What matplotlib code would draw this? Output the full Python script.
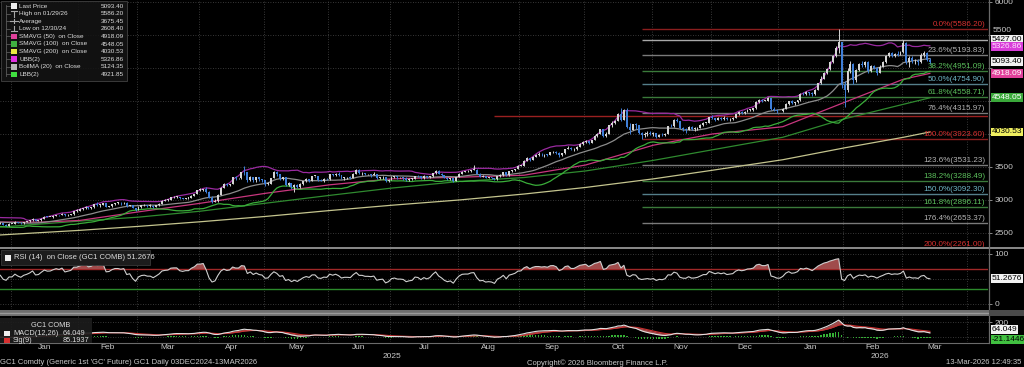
import numpy as np
import pandas as pd
import matplotlib
matplotlib.use("Agg")
import matplotlib.pyplot as plt
from matplotlib.patches import Rectangle
from matplotlib.lines import Line2D
from matplotlib.transforms import blended_transform_factory as btf

plt.rcParams['font.family'] = ['Liberation Sans', 'DejaVu Sans']

# ---------------- daily OHLC (open, high, low, close) ----------------
ohlc_2024_12 = [(2655,2668,2645,2660),(2660,2675,2650,2670),(2670,2672,2645,2655),(2655,2665,2640,2657),
 (2657,2695,2650,2690),(2690,2722,2685,2715),(2715,2765,2710,2760),(2760,2762,2700,2705),(2705,2710,2668,2675),
 (2675,2685,2660,2670),(2670,2678,2655,2665),(2665,2672,2615,2650),(2650,2652,2600,2610),(2610,2645,2600,2635),
 (2635,2645,2625,2632),(2632,2642,2628,2638),(2638,2640,2636,2638),(2638,2660,2635,2653),(2653,2656,2615,2620),
 (2620,2630,2608.4,2610),(2610,2645,2609,2641)]
ohlc_2025_01 = [(2641,2643,2639,2641),(2641,2675,2638,2670),(2670,2672,2648,2655),
 (2655,2660,2638,2645),(2645,2672,2640,2665),(2665,2680,2660,2675),(2675,2695,2672,2690),(2690,2725,2685,2715),
 (2715,2718,2675,2685),(2685,2698,2680,2690),(2690,2722,2686,2718),(2718,2752,2715,2748),(2748,2755,2735,2740),
 (2740,2745,2736,2742),(2742,2765,2730,2760),(2760,2780,2755,2775),(2775,2780,2760,2770),(2770,2800,2765,2790),
 (2790,2792,2755,2765),(2765,2782,2760,2775),(2775,2792,2768,2785),(2785,2840,2780,2835),(2835,2860,2825,2835)]
ohlc_2025_02 = [(2835,2875,2830,2857),(2857,2880,2845,2875),(2875,2905,2870,2890),(2890,2895,2860,2875),
 (2875,2895,2865,2887),(2887,2940,2885,2935),(2935,2968,2915,2925),(2925,2940,2895,2930),(2930,2960,2925,2955),
 (2955,2960,2895,2900),(2900,2915,2895,2905),(2905,2940,2900,2935),(2935,2960,2930,2955),(2955,2975,2945,2955),
 (2955,2965,2930,2950),(2950,2975,2945,2960),(2960,2962,2900,2915),(2915,2930,2905,2925),(2925,2928,2875,2880),
 (2880,2885,2835,2848)]
ohlc_2025_03 = [(2848,2905,2845,2900),(2900,2930,2885,2920),(2920,2935,2905,2925),(2925,2930,2900,2915),
 (2915,2935,2900,2915),(2915,2920,2885,2900),(2900,2925,2895,2920),(2920,2950,2915,2945),(2945,2995,2940,2990),
 (2990,3017,2985,3000),(3000,3010,2990,3005),(3005,3045,3000,3040),(3040,3055,3030,3045),(3045,3065,3030,3045),
 (3045,3048,3010,3025),(3025,3035,3010,3020),(3020,3035,3015,3030),(3030,3040,3020,3030),(3030,3070,3025,3065),
 (3065,3095,3060,3090),(3090,3155,3085,3150)]
ohlc_2025_04 = [(3150,3175,3130,3150),(3150,3170,3135,3165),(3165,3200,3110,3120),(3120,3135,3025,3035),
 (3035,3055,2955,2975),(2975,3010,2970,2990),(2990,3090,2975,3080),(3080,3190,3075,3185),(3185,3250,3175,3245),
 (3245,3255,3210,3225),(3225,3245,3215,3240),(3240,3350,3235,3345),(3345,3360,3310,3330),(3330,3335,3325,3330),
 (3330,3430,3325,3425),(3425,3509,3380,3420),(3420,3425,3270,3300),(3300,3360,3285,3350),(3350,3355,3270,3300),
 (3300,3355,3280,3345),(3345,3350,3290,3315),(3315,3325,3280,3305)]
ohlc_2025_05 = [(3305,3310,3205,3240),(3240,3270,3230,3245),(3245,3340,3240,3335),(3335,3435,3330,3420),
 (3420,3440,3370,3390),(3390,3400,3300,3325),(3325,3350,3300,3345),(3345,3350,3205,3225),(3225,3265,3215,3250),
 (3250,3255,3170,3190),(3190,3240,3125,3225),(3225,3235,3180,3190),(3190,3250,3185,3235),(3235,3295,3220,3285),
 (3285,3330,3280,3315),(3315,3325,3280,3295),(3295,3370,3290,3365),(3365,3368,3355,3365),(3365,3368,3295,3300),
 (3300,3320,3285,3290),(3290,3330,3270,3320),(3320,3330,3300,3315)]
ohlc_2025_06 = [(3315,3400,3310,3395),(3395,3400,3360,3375),(3375,3405,3370,3400),(3400,3420,3365,3375),
 (3375,3385,3320,3330),(3330,3350,3300,3345),(3345,3355,3320,3345),(3345,3365,3325,3340),(3340,3405,3335,3400),
 (3400,3470,3395,3450),(3450,3475,3390,3405),(3405,3420,3385,3405),(3405,3415,3375,3390),(3390,3395,3385,3390),
 (3390,3400,3350,3385),(3385,3420,3375,3395),(3395,3400,3320,3335),(3335,3355,3325,3345),(3345,3365,3325,3350),
 (3350,3352,3280,3290),(3290,3315,3270,3307)]
ohlc_2025_07 = [(3307,3360,3300,3350),(3350,3370,3335,3360),(3360,3365,3320,3345),(3345,3348,3340,3345),
 (3345,3350,3300,3340),(3340,3345,3290,3310),(3310,3330,3295,3320),(3320,3335,3310,3325),(3325,3370,3320,3365),
 (3365,3385,3350,3360),(3360,3370,3325,3335),(3335,3375,3320,3360),(3360,3365,3330,3345),(3345,3370,3340,3360),
 (3360,3410,3355,3405),(3405,3450,3400,3445),(3445,3452,3390,3400),(3400,3405,3360,3375),(3375,3380,3330,3340),
 (3340,3345,3310,3320),(3320,3340,3310,3330),(3330,3335,3270,3295),(3295,3355,3290,3350)]
ohlc_2025_08 = [(3350,3410,3345,3400),(3400,3440,3395,3430),(3430,3445,3420,3435),(3435,3450,3420,3435),
 (3435,3460,3430,3455),(3455,3534,3450,3460),(3460,3465,3390,3400),(3400,3410,3345,3355),(3355,3375,3350,3360),
 (3360,3370,3330,3335),(3335,3350,3330,3340),(3340,3350,3325,3335),(3335,3340,3310,3315),(3315,3370,3310,3365),
 (3365,3390,3355,3385),(3385,3425,3370,3420),(3420,3425,3370,3375),(3375,3440,3370,3435),(3435,3455,3425,3450),
 (3450,3475,3440,3470),(3470,3525,3465,3515)]
ohlc_2025_09 = [(3515,3530,3510,3520),(3520,3600,3515,3595),(3595,3645,3585,3635),(3635,3640,3590,3610),
 (3610,3665,3600,3655),(3655,3690,3645,3680),(3680,3720,3665,3680),(3680,3705,3660,3675),(3675,3695,3650,3685),
 (3685,3700,3670,3680),(3680,3725,3675,3720),(3720,3745,3710,3725),(3725,3740,3690,3715),(3715,3720,3655,3680),
 (3680,3710,3670,3705),(3705,3780,3700,3775),(3775,3825,3765,3795),(3795,3800,3750,3770),(3770,3785,3740,3770),
 (3770,3815,3760,3810),(3810,3860,3805,3855),(3855,3900,3830,3873)]
ohlc_2025_10 = [(3873,3905,3860,3890),(3890,3900,3845,3870),(3870,3915,3860,3910),(3910,3980,3905,3975),
 (3975,4010,3960,4005),(4005,4080,4000,4070),(4070,4075,3960,3975),(3975,4025,3950,4000),(4000,4140,3995,4135),
 (4135,4190,4100,4165),(4165,4215,4150,4200),(4200,4315,4195,4305),(4305,4390,4200,4215),(4215,4375,4210,4360),
 (4360,4398,4085,4110),(4110,4160,4005,4065),(4065,4155,4060,4145),(4145,4160,4075,4135),(4135,4140,4000,4020),
 (4020,4030,3923.6,3985),(3985,4030,3960,4000),(4000,4050,3970,4015),(4015,4040,3980,3995)]
ohlc_2025_11 = [(3995,4030,3975,4015),(4015,4020,3940,3960),(3960,4000,3950,3990),(3990,4015,3965,3980),
 (3980,4020,3970,4005),(4005,4125,4000,4120),(4120,4150,4100,4115),(4115,4220,4105,4215),(4215,4245,4180,4195),
 (4195,4200,4080,4095),(4095,4110,4050,4070),(4070,4090,4020,4065),(4065,4125,4060,4110),(4110,4120,4060,4075),
 (4075,4100,4050,4080),(4080,4100,4060,4095),(4095,4150,4090,4130),(4130,4175,4120,4165),(4165,4170,4150,4165),
 (4165,4260,4160,4255)]
ohlc_2025_12 = [(4255,4285,4220,4235),(4235,4240,4195,4215),(4215,4255,4205,4240),(4240,4250,4205,4225),
 (4225,4265,4215,4245),(4245,4255,4205,4220),(4220,4240,4200,4230),(4230,4255,4215,4240),(4240,4310,4235,4300),
 (4300,4355,4290,4330),(4330,4345,4300,4320),(4320,4345,4305,4335),(4335,4375,4330,4365),(4365,4385,4345,4370),
 (4370,4400,4355,4390),(4390,4495,4385,4490),(4490,4525,4475,4520),(4520,4530,4490,4505),(4505,4508,4502,4505),
 (4505,4560,4500,4545),(4545,4550,4370,4385),(4385,4410,4350,4370),(4370,4380,4320,4345)]
ohlc_2026_01 = [(4345,4348,4342,4345),(4345,4395,4335,4380),(4380,4465,4375,4455),(4455,4505,4440,4495),
 (4495,4510,4455,4470),(4470,4490,4445,4480),(4480,4520,4470,4510),(4510,4625,4505,4610),(4610,4630,4585,4600),
 (4600,4650,4595,4635),(4635,4640,4595,4620),(4620,4630,4580,4600),(4600,4680,4595,4670),(4670,4775,4665,4765),
 (4765,4880,4760,4840),(4840,4945,4830,4930),(4930,5000,4915,4980),(4980,5110,4970,5090),(5090,5195,5075,5180),
 (5180,5330,5170,5310),(5310,5586.2,5230,5390),(5390,5400,4700,4740)]
ohlc_2026_02 = [(4740,4800,4409,4660),(4660,5000,4640,4950),(4950,5110,4920,5060),(5060,5075,4760,4820),
 (4820,4990,4790,4965),(4965,5080,4950,5065),(5065,5100,5010,5040),(5040,5110,5020,5090),(5090,5100,4930,4960),
 (4960,5050,4940,5030),(5030,5040,4990,5005),(5005,5010,4900,4930),(4930,5040,4920,5020),(5020,5100,5010,5090),
 (5090,5190,5080,5180),(5180,5240,5170,5225),(5225,5235,5160,5180),(5180,5230,5165,5210),(5210,5250,5185,5200),
 (5200,5260,5190,5240)]
ohlc_2026_03 = [(5240,5427,5225,5380),(5380,5400,5060,5090),(5090,5180,5020,5150),(5150,5175,5070,5100),
 (5100,5140,5060,5110),(5110,5130,5050,5085),(5085,5220,5080,5200),(5200,5250,5170,5230),(5230,5240,5100,5120),
 (5120,5150,5060,5093.4)]

# ---------------- moving averages ----------------
sma50_dates = ['2024-12-26','2025-01-15','2025-02-03','2025-03-03','2025-04-01','2025-05-01','2025-06-02',
               '2025-07-01','2025-08-01','2025-09-02','2025-10-01','2025-11-03','2025-12-01','2026-01-02',
               '2026-02-02','2026-03-02','2026-03-13']
sma50_vals = [2665,2665,2690,2820,2950,3100,3230,3320,3345,3375,3530,3830,4000,4110,4480,4830,4918.09]
sma100_dates = ['2024-12-26','2025-02-03','2025-03-03','2025-04-01','2025-05-01','2025-06-02','2025-07-01',
                '2025-08-01','2025-09-02','2025-10-01','2025-11-03','2025-12-01','2026-01-02','2026-02-02',
                '2026-03-02','2026-03-13']
sma100_vals = [2590,2680,2740,2830,2950,3070,3180,3280,3340,3440,3600,3760,3950,4230,4450,4548.05]
sma200_dates = sma100_dates
sma200_vals = [2470,2540,2600,2670,2750,2840,2920,3000,3090,3190,3320,3450,3610,3790,3950,4030.53]

# fibonacci retracement
fib_pcts = [0.0, 23.6, 38.2, 50.0, 61.8, 76.4, 100.0, 123.6, 138.2, 150.0, 161.8, 176.4, 200.0]
fib_vals = [5586.20, 5193.83, 4951.09, 4754.90, 4558.71, 4315.97, 3923.60, 3531.23, 3288.49, 3092.30,
            2896.11, 2653.37, 2261.00]
fib_start = '2025-10-28'
hline_5427 = 5427.00
red_line_val = 4280
red_line_start = '2025-08-19'

price_ticks = [2500, 3000, 3500, 4000, 4500, 5000, 5500, 6000]
price_tick_labels = ['2500', '3000', '3500', '', '', '', '', '6000']
raised_tick_label = (5500, '5500')
month_labels = ['Jan','Feb','Mar','Apr','May','Jun','Jul','Aug','Sep','Oct','Nov','Dec','Jan','Feb','Mar']
year_labels = ['2025', '2026']

legend_rows = [('Last Price','5093.40','sq','#f0f0f0'), ('High on 01/29/26','5586.20','hi',None),
               ('Average','3675.45','av',None), ('Low on 12/30/24','2608.40','lo',None),
               ('SMAVG (50)  on Close','4918.09','sq','#e0409a'), ('SMAVG (100)  on Close','4548.05','sq','#40b040'),
               ('SMAVG (200)  on Close','4030.53','sq','#e8e840'), ('UBB(2)','5326.86','sq','#e030e0'),
               ('BollMA (20)  on Close','5124.35','sq','#b8b8b8'), ('LBB(2)','4921.85','sq','#40e040')]
right_labels = [(5427.00,'5427.00','#f2f2f2','black'), (5326.86,'5326.86','#d83cd8','#ffe0ff'),
                (5093.40,'5093.40','#f2f2f2','black'), (4918.09,'4918.09','#e0409a','white'),
                (4548.05,'4548.05','#3aa83a','white'), (4030.53,'4030.53','#f0f060','black')]
rsi_text = 'RSI (14)  on Close (GC1 COMB) 51.2676'
rsi_last = 51.2676
macd_last, sig_last, hist_last = 64.049, 85.1937, -21.1446

# ---------------- derived series ----------------
rows = (ohlc_2024_12 + ohlc_2025_01 + ohlc_2025_02 + ohlc_2025_03 + ohlc_2025_04 + ohlc_2025_05 +
        ohlc_2025_06 + ohlc_2025_07 + ohlc_2025_08 + ohlc_2025_09 + ohlc_2025_10 + ohlc_2025_11 +
        ohlc_2025_12 + ohlc_2026_01 + ohlc_2026_02 + ohlc_2026_03)
arr = np.array(rows, float)
o, h, l, c = arr.T
n = len(arr)
cal = pd.bdate_range('2024-12-03', '2026-04-30')
x = np.arange(n)

def di(s):
    return int(np.searchsorted(cal, pd.Timestamp(s)))

s = pd.Series(c)
mid = s.rolling(20, min_periods=15).mean()
sd = s.rolling(20, min_periods=15).std(ddof=0)
ubb, lbb = mid + 2 * sd, mid - 2 * sd
d = s.diff()
ag = d.clip(lower=0).ewm(alpha=1/14, adjust=False).mean()
al = (-d.clip(upper=0)).ewm(alpha=1/14, adjust=False).mean()
rsi = 100 - 100 / (1 + ag / al)
macd = s.ewm(span=12, adjust=False).mean() - s.ewm(span=26, adjust=False).mean()
sig = macd.ewm(span=9, adjust=False).mean()
hist = macd - sig

# ---------------- figure ----------------
W, H = 1024, 367
fig = plt.figure(figsize=(W/100, H/100), dpi=100, facecolor='black')
def fx(px): return px / W
def fy(py): return 1 - py / H

AXR = 988
ax = fig.add_axes([0, fy(247), fx(AXR), 247/H])
ax_r = fig.add_axes([0, fy(309), fx(AXR), 62/H])
ax_m = fig.add_axes([0, fy(342), fx(AXR), 26/H])
XL = (16.93, 352.75)
TXT = '#c8c8c8'
GRID = '#4a4a4a'
for a in (ax, ax_r, ax_m):
    a.set_facecolor('black')
    a.set_xlim(*XL)
    for sp in a.spines.values():
        sp.set_visible(False)
    a.yaxis.tick_right()
    a.tick_params(axis='y', length=3, width=0.6, color='#a0a0a0', labelsize=6, labelcolor=TXT, pad=1.5)
    a.tick_params(axis='x', length=0, labelbottom=False)

ms = pd.date_range('2025-01-01', '2026-04-01', freq='MS')
ms_idx = [di(m) for m in ms]
for a in (ax, ax_r, ax_m):
    for m in ms_idx:
        a.axvline(m - 0.5, color=GRID, lw=0.6, ls=(0, (1, 2)), zorder=1)

# main panel
ax.set_ylim(2287.6, 6030)
ax.set_yticks(price_ticks)
ax.set_yticklabels(price_tick_labels)
for v in price_ticks:
    ax.axhline(v, color=GRID, lw=0.6, ls=(0, (1, 2)), zorder=1)
ax.annotate(raised_tick_label[1], xy=(1.0, raised_tick_label[0]), xycoords=btf(ax.transAxes, ax.transData),
            xytext=(3.3, 0.6), textcoords='offset points', ha='left', va='bottom', fontsize=6, color=TXT,
            annotation_clip=False, zorder=9)

fs = di(fib_start)
fib_col = {0: ('#8a1e1e', '#d83030'), 1: ('#7a7a7a', '#b4b4b4'), 2: ('#3a7a3a', '#5cc05c'), 3: ('#557f8a', '#70b8c8')}
fib_kind = [0, 1, 2, 3, 2, 1, 0, 1, 2, 3, 2, 1, 0]
for p, v, k in zip(fib_pcts, fib_vals, fib_kind):
    lc, tc = fib_col[k]
    ax.hlines(v, fs, XL[1], color=lc, lw=1.0, zorder=2)
    ax.text(0.997, v + 12, f'{p:.1f}%({v:.2f})', transform=btf(ax.transAxes, ax.transData),
            ha='right', va='bottom', fontsize=5.8, color=tc, zorder=6, clip_on=True)
ax.hlines(hline_5427, fs, XL[1], color='#a8a8a8', lw=1.0, zorder=2)
ax.hlines(red_line_val, di(red_line_start), XL[1], color='#9a2020', lw=1.0, zorder=2)

ax.plot([di(t) for t in sma200_dates], sma200_vals, color='#c4c48e', lw=0.9, zorder=3)
ax.plot([di(t) for t in sma100_dates], sma100_vals, color='#2f8a2f', lw=0.9, zorder=3)
ax.plot([di(t) for t in sma50_dates], sma50_vals, color='#c8367e', lw=0.9, zorder=3)
ax.plot(x, ubb, color='#9a2aa0', lw=0.9, zorder=3)
ax.plot(x, mid, color='#8c8c8c', lw=0.9, zorder=3)
ax.plot(x, lbb, color='#3aae3a', lw=0.9, zorder=3)

UP, DN = '#d4d4d4', '#3f7fd9'
up = c >= o
blo = np.minimum(o, c)
bh = np.maximum(np.abs(c - o), 10)
for mask, col in ((up, UP), (~up, DN)):
    ax.vlines(x[mask], l[mask], h[mask], color=col, lw=0.7, zorder=4)
    ax.bar(x[mask], bh[mask], bottom=blo[mask], width=0.66, color=col, lw=0, zorder=5)

def vlabel(a, val, text, fc, tc):
    a.annotate(text, xy=(1.0, val), xycoords=btf(a.transAxes, a.transData), xytext=(2.5, 0),
               textcoords='offset points', ha='left', va='center', fontsize=6, color=tc,
               bbox=dict(boxstyle='square,pad=0.1', fc=fc, ec='none'), annotation_clip=False, zorder=10)

for v, t, fc, tc in right_labels:
    vlabel(ax, v, t, fc, tc)

# RSI panel
ax_r.set_ylim(-10, 114)
ax_r.set_yticks([0, 100])
for v in (0, 50, 100):
    ax_r.axhline(v, color=GRID, lw=0.6, ls=(0, (1, 2)), zorder=1)
ax_r.axhline(70, color='#a02828', lw=1.0, zorder=2)
ax_r.axhline(30, color='#2c8a2c', lw=1.0, zorder=2)
ax_r.fill_between(x, rsi, 70, where=rsi > 70, interpolate=True, color='#a04c4c', lw=0, zorder=3)
ax_r.fill_between(x, rsi, 30, where=rsi < 30, interpolate=True, color='#3a8a3a', lw=0, zorder=3)
ax_r.plot(x, rsi, color='#cfcfcf', lw=0.8, zorder=4)
vlabel(ax_r, rsi_last, f'{rsi_last:.4f}', '#f2f2f2', 'black')

# MACD panel
ax_m.set_ylim(-72, 282)
ax_m.set_yticks([200])
ax_m.axhline(0, color=GRID, lw=0.6, ls=(0, (1, 2)), zorder=1)
ax_m.axhline(200, color=GRID, lw=0.6, ls=(0, (1, 2)), zorder=1)
ax_m.bar(x, hist, width=0.5, color='#35b035', lw=0, zorder=2)
ax_m.fill_between(x, macd, sig, color='#a04c4c', lw=0, zorder=3)
ax_m.plot(x, sig, color='#c83030', lw=0.8, zorder=4)
ax_m.plot(x, macd, color='#e0e0e0', lw=0.8, zorder=5)
vlabel(ax_m, 64.049 + 30, f'{macd_last:.3f}', '#f2f2f2', 'black')
vlabel(ax_m, -40, f'{hist_last:.4f}', '#40c040', 'black')

# x axis labels
centers = [(ms_idx[i] + ms_idx[i + 1]) / 2 - 0.5 for i in range(len(ms_idx) - 1)]
centers[-1] = min(centers[-1], n + 0.5)
ax_m.set_xticks(centers)
ax_m.set_xticklabels(month_labels)
ax_m.tick_params(axis='x', labelbottom=True, length=0, pad=1.5, labelsize=6, labelcolor=TXT)
tr = btf(ax_m.transData, fig.transFigure)
fig.text(150, fy(356), year_labels[0], transform=tr, ha='center', va='center', fontsize=6, color=TXT)
fig.text(316, fy(356), year_labels[1], transform=tr, ha='center', va='center', fontsize=6, color=TXT)

# ---------------- frame pieces ----------------
def pxline(x0, y0, x1, y1, color, lw, z=8):
    fig.add_artist(Line2D([fx(x0), fx(x1)], [fy(y0), fy(y1)], transform=fig.transFigure, color=color, lw=lw, zorder=z))

def pxrect(x0, y0, x1, y1, fc, ec='none', alpha=1.0, z=7, lw=0.6):
    fig.add_artist(Rectangle((fx(x0), fy(y1)), fx(x1) - fx(x0), fy(y0) - fy(y1), transform=fig.transFigure,
                             fc=fc, ec=ec, alpha=alpha, zorder=z, lw=lw))

pxline(0, 247.5, W, 247.5, '#8a8a8a', 1.4)
pxrect(0, 310, W, 315.5, '#6e6e6e', z=8)
pxline(0, 312.7, W, 312.7, '#9a9a9a', 1.0, z=9)
pxrect(AXR + 1, 310, W, 315.5, '#4a4a4a', z=9)
pxline(0, 342.5, AXR, 342.5, '#6a6a6a', 0.8)
pxline(AXR + 0.5, 0, AXR + 0.5, 342.5, '#6a6a6a', 0.9)

# main legend
pxrect(1, 1, 127, 81, '#141414', ec='#484848', alpha=0.9, z=11)
pxline(6, 5, 6, 76, '#5a5a5a', 0.6, z=12)
for i, (name, val, kind, col) in enumerate(legend_rows):
    yy = 6 + i * 7.6
    pxline(6, yy, 10, yy, '#5a5a5a', 0.6, z=12)
    if kind == 'sq':
        pxrect(11, yy - 2.8, 17, yy + 2.8, col, z=12)
    elif kind == 'hi':
        pxline(11, yy - 2.5, 17, yy - 2.5, '#a8a8a8', 0.8, z=12)
        pxline(14, yy - 2.5, 14, yy + 3, '#a8a8a8', 0.8, z=12)
    elif kind == 'av':
        pxline(10, yy, 18, yy, '#a8a8a8', 0.8, z=12)
        pxline(14, yy - 2, 14, yy + 2, '#a8a8a8', 0.8, z=12)
    else:
        pxline(14, yy - 3, 14, yy + 2.5, '#a8a8a8', 0.8, z=12)
        pxline(11, yy + 2.5, 17, yy + 2.5, '#a8a8a8', 0.8, z=12)
    fig.text(fx(19), fy(yy), name, ha='left', va='center', fontsize=4.6, color='#dcdcdc', zorder=13)
    fig.text(fx(124), fy(yy), val, ha='right', va='center', fontsize=4.6, color='#dcdcdc', zorder=13)

# RSI legend
pxrect(1, 250, 150, 265, '#1c1c1c', ec='#383838', z=11)
pxrect(5, 254.5, 11, 260.5, '#f0f0f0', z=12)
fig.text(fx(14), fy(257.5), rsi_text, ha='left', va='center', fontsize=5.5, color='#dcdcdc', zorder=13)

# MACD legend
pxrect(0, 318, 92, 343, '#1c1c1c', ec='none', alpha=0.9, z=11)
fig.text(fx(31), fy(325.5), 'GC1 COMB', ha='left', va='center', fontsize=5.3, color='#dcdcdc', zorder=13)
pxrect(4, 330.5, 10, 336, '#f0f0f0', z=12)
fig.text(fx(13), fy(333.2), 'MACD(12,26)', ha='left', va='center', fontsize=5.3, color='#dcdcdc', zorder=13)
fig.text(fx(63), fy(333.2), f'{macd_last:.3f}', ha='left', va='center', fontsize=5.3, color='#dcdcdc', zorder=13)
pxrect(4, 337.5, 10, 343, '#d83030', z=12)
fig.text(fx(13), fy(340.2), 'Sig(9)', ha='left', va='center', fontsize=5.3, color='#dcdcdc', zorder=13)
fig.text(fx(63), fy(340.2), f'{sig_last:.4f}', ha='left', va='center', fontsize=5.3, color='#dcdcdc', zorder=13)

# footer
fig.text(fx(0), fy(363), "GC1 Comdty (Generic 1st 'GC' Future) GC1 Daily 03DEC2024-13MAR2026",
         ha='left', va='center', fontsize=5.5, color=TXT)
fig.text(fx(527), fy(363), 'Copyright\u00a9 2026 Bloomberg Finance L.P.', ha='left', va='center', fontsize=5.5, color=TXT)
fig.text(fx(1021), fy(363), '13-Mar-2026 12:49:35', ha='right', va='center', fontsize=5.5, color=TXT)

fig.savefig('out.png', dpi=100, facecolor='black')
